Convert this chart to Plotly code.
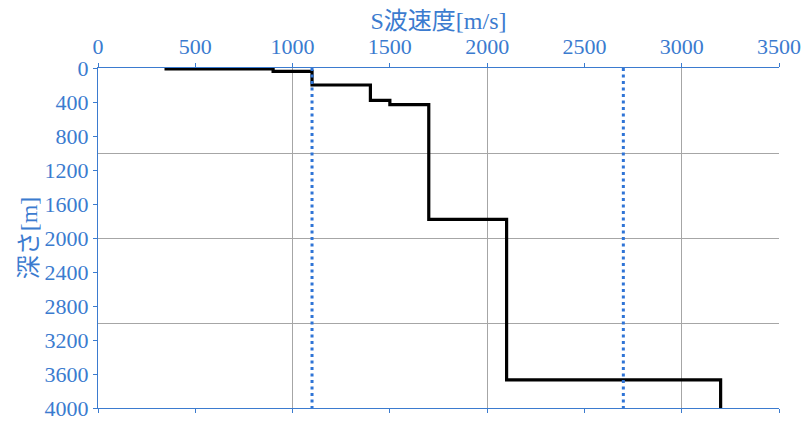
import plotly.graph_objects as go

# Layered S-wave velocity profile
layer_vs = [350, 900, 1100, 1400, 1500, 1700, 2100, 3200]          # m/s
layer_top = [0, 10, 40, 200, 380, 430, 1780, 3670]                  # m
layer_bottom = [10, 40, 200, 380, 430, 1780, 3670, 4000]            # m

# Reference velocity lines
ref_vs = [1100, 2700]

x_ticks = [0, 500, 1000, 1500, 2000, 2500, 3000, 3500]
y_ticks = [0, 400, 800, 1200, 1600, 2000, 2400, 2800, 3200, 3600, 4000]

BLUE = "#3b7bcf"
DOT_BLUE = "#2f74d6"
FONT = "Liberation Serif, Noto Sans CJK JP, serif"

xs, ys = [], []
for v, t, b in zip(layer_vs, layer_top, layer_bottom):
    xs += [v, v]
    ys += [t, b]

fig = go.Figure()

# grid via overlay axes (grid every 1000)
fig.add_trace(go.Scatter(x=[0], y=[0], xaxis="x2", yaxis="y2", mode="markers",
                         marker=dict(opacity=0), showlegend=False, hoverinfo="skip"))

fig.add_trace(go.Scatter(x=xs, y=ys, mode="lines",
                         line=dict(color="black", width=3.2), showlegend=False))

for rv in ref_vs:
    fig.add_trace(go.Scatter(x=[rv, rv], y=[y_ticks[0], y_ticks[-1]], mode="lines",
                             line=dict(color=DOT_BLUE, width=3, dash="3px,3.5px"),
                             showlegend=False))

fig.update_layout(
    width=810, height=426,
    margin=dict(l=90, r=39, t=60, b=26),
    paper_bgcolor="white", plot_bgcolor="white",
    font=dict(family=FONT, color=BLUE, size=22),
    xaxis=dict(side="top", range=[x_ticks[0], x_ticks[-1]], tickvals=x_ticks,
               automargin=False,
               showgrid=False, zeroline=False, showline=True, linecolor=BLUE, linewidth=1,
               ticks="outside", ticklen=4, tickcolor=BLUE, mirror="ticks",
               tickfont=dict(family=FONT, size=22, color=BLUE),
               title=dict(text="S波速度[m/s]", font=dict(family=FONT, size=24, color=BLUE), standoff=4)),
    yaxis=dict(range=[y_ticks[-1], y_ticks[0]], tickvals=y_ticks,
               automargin=False,
               showgrid=False, zeroline=False, showline=True, linecolor=BLUE, linewidth=1,
               ticks="outside", ticklen=4, tickcolor=BLUE,
               tickfont=dict(family=FONT, size=22, color=BLUE),
               title=dict(text="深さ[m]", font=dict(family=FONT, size=24, color=BLUE), standoff=0)),
    xaxis2=dict(overlaying="x", range=[x_ticks[0], x_ticks[-1]], dtick=1000, automargin=False,
                showgrid=True, gridcolor="#a6a6a6", gridwidth=1, showticklabels=False,
                zeroline=False, showline=False, ticks=""),
    yaxis2=dict(overlaying="y", range=[y_ticks[-1], y_ticks[0]], dtick=1000, automargin=False,
                showgrid=True, gridcolor="#a6a6a6", gridwidth=1, showticklabels=False,
                zeroline=False, showline=False, ticks=""),
)

fig.write_html("out.html")
